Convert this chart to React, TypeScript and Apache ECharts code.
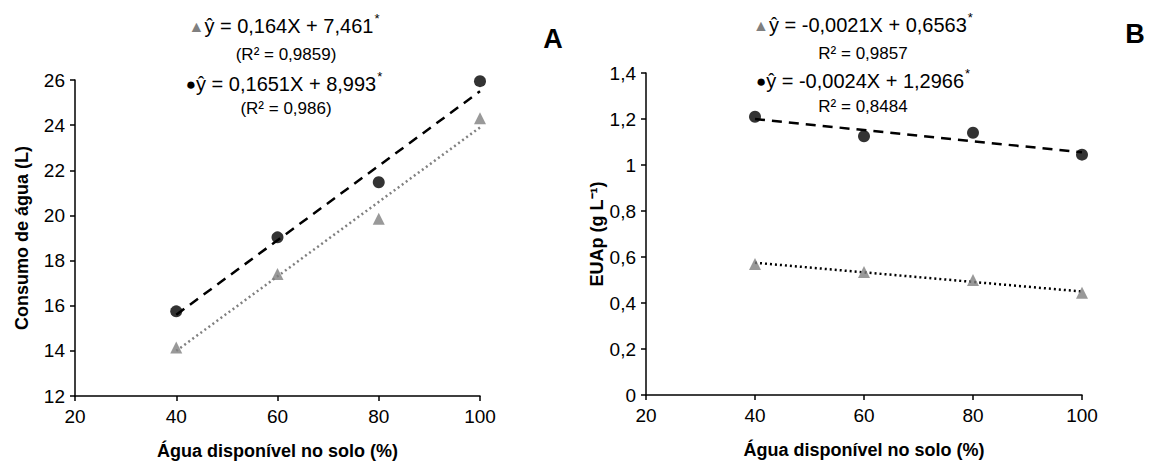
import React, { useEffect, useRef } from "react";
import * as echarts from "echarts";

const xLevels = [40, 60, 80, 100];

// Panel A – Consumo de água (L)
const aCircle = [15.75, 19.03, 21.47, 25.95];
const aTriangle = [14.15, 17.4, 19.85, 24.3];
const aCircleTrend = [15.6, 25.5]; // at x = 40, 100
const aTriangleTrend = [14.0, 23.9];

// Panel B – EUAp (g L-1)
const bCircle = [1.21, 1.125, 1.14, 1.045];
const bTriangle = [0.57, 0.535, 0.5, 0.445];
const bCircleTrend = [1.2, 1.055];
const bTriangleTrend = [0.575, 0.45];

const trendX = [40, 100];

const FONT = "Liberation Sans, Arial, sans-serif";

const pair = (xs: number[], ys: number[]) => xs.map((x, i) => [x, ys[i]]);
const comma = (v: number) => String(Math.round(v * 100) / 100).replace(".", ",");

export default function App() {
  const ref = useRef<HTMLDivElement>(null);
  useEffect(() => {
    document.body.style.margin = "0";
    const chart = echarts.init(ref.current!, null, { renderer: "svg" });
    const axisCommon = {
      axisLine: { show: true, lineStyle: { color: "#000", width: 1.5 } },
      axisTick: { show: true, length: 5, lineStyle: { color: "#000", width: 1.5 } },
      splitLine: { show: false },
      axisLabel: { color: "#000", fontSize: 19, fontFamily: FONT },
    };
    const titleStyle = { color: "#000", fontSize: 18, fontWeight: "bold", fontFamily: FONT };
    const xAxisOf = (gi: number) => ({
      ...axisCommon,
      type: "value",
      gridIndex: gi,
      min: 20,
      max: 100,
      interval: 20,
      axisLabel: { ...axisCommon.axisLabel, margin: 11 },
      name: "Água disponível no solo (%)",
      nameLocation: "middle",
      nameGap: 46,
      nameTextStyle: titleStyle,
    });
    const circleStyle = { color: "#000" };
    const triStyle = { color: "#808080" };
    const eq = (x: number, y: number, sym: string, symColor: string, body: string) => ({
      type: "text",
      x,
      y,
      style: {
        text: `{s|${sym}}{t|${body}}{sup|*}`,
        align: "center",
        verticalAlign: "middle",
        rich: {
          s: { fill: symColor, fontSize: sym === "▲" ? 16 : 17, fontFamily: FONT },
          t: { fill: "#000", fontSize: 20, fontFamily: FONT },
          sup: { fill: "#000", fontSize: 13, fontFamily: FONT, verticalAlign: "top", padding: [0, 0, 16, 1] },
        },
      },
    });
    const plain = (x: number, y: number, text: string) => ({
      type: "text",
      x,
      y,
      style: { text, fill: "#000", fontSize: 17, fontFamily: FONT, align: "center", verticalAlign: "middle" },
    });
    const line = (gi: number, ys: number[], color: string, type: number[]) => ({
      type: "line",
      xAxisIndex: gi,
      yAxisIndex: gi,
      data: pair(trendX, ys),
      symbol: "none",
      lineStyle: { color, width: 2.5, type },
      z: 1,
    });
    const pts = (gi: number, ys: number[], symbol: string, style: any, size: number) => ({
      type: "scatter",
      xAxisIndex: gi,
      yAxisIndex: gi,
      data: pair(xLevels, ys),
      symbol,
      symbolSize: size,
      itemStyle: style,
      z: 3,
    });
    chart.setOption({
      animation: false,
      grid: [
        { left: 75, top: 80, width: 405, height: 316 },
        { left: 646, top: 73, width: 436, height: 322 },
      ],
      xAxis: [xAxisOf(0), xAxisOf(1)],
      yAxis: [
        {
          ...axisCommon,
          type: "value",
          gridIndex: 0,
          min: 12,
          max: 26,
          interval: 2,
          axisLabel: { ...axisCommon.axisLabel, margin: 10 },
          name: "Consumo de água (L)",
          nameLocation: "middle",
          nameGap: 44,
          nameTextStyle: titleStyle,
        },
        {
          ...axisCommon,
          type: "value",
          gridIndex: 1,
          min: 0,
          max: 1.4,
          interval: 0.2,
          axisLabel: { ...axisCommon.axisLabel, margin: 10, formatter: (v: number) => comma(v) },
          name: "EUAp (g L⁻¹)",
          nameLocation: "middle",
          nameGap: 40,
          nameTextStyle: titleStyle,
        },
      ],
      series: [
        line(0, aTriangleTrend, "#808080", [2, 3]),
        line(0, aCircleTrend, "#000", [10, 7]),
        pts(0, aTriangle, "triangle", triStyle, 12),
        pts(0, aCircle, "circle", circleStyle, 12),
        line(1, bTriangleTrend, "#000", [2, 3]),
        line(1, bCircleTrend, "#000", [10, 7]),
        pts(1, bTriangle, "triangle", triStyle, 12),
        pts(1, bCircle, "circle", circleStyle, 12),
      ],
      graphic: [
        eq(284, 26, "▲", "#808080", "ŷ = 0,164X + 7,461"),
        plain(286, 54, "(R² = 0,9859)"),
        eq(284, 84, "●", "#000", "ŷ = 0,1651X + 8,993"),
        plain(286, 108, "(R² = 0,986)"),
        { type: "text", x: 553, y: 39, style: { text: "A", fill: "#000", fontSize: 27, fontWeight: "bold", fontFamily: FONT, align: "center", verticalAlign: "middle" } },
        eq(863, 25, "▲", "#808080", "ŷ = -0,0021X + 0,6563"),
        plain(863, 53, "R² = 0,9857"),
        eq(863, 81, "●", "#000", "ŷ = -0,0024X + 1,2966"),
        plain(863, 106, "R² = 0,8484"),
        { type: "text", x: 1135, y: 34, style: { text: "B", fill: "#000", fontSize: 27, fontWeight: "bold", fontFamily: FONT, align: "center", verticalAlign: "middle" } },
      ],
    });
    return () => chart.dispose();
  }, []);
  return <div ref={ref} style={{ width: 1166, height: 465 }} />;
}
